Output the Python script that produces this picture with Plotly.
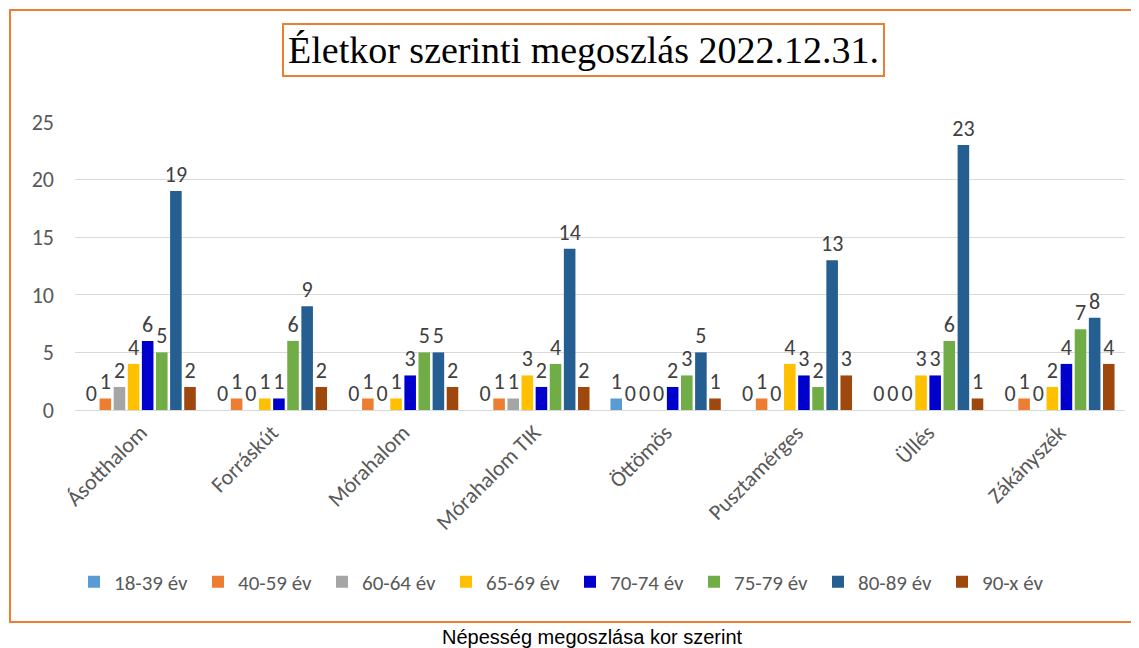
import plotly.graph_objects as go

categories = ["Ásotthalom", "Forráskút", "Mórahalom", "Mórahalom TIK",
              "Öttömös", "Pusztamérges", "Üllés", "Zákányszék"]
series_names = ["18-39 év", "40-59 év", "60-64 év", "65-69 év",
                "70-74 év", "75-79 év", "80-89 év", "90-x év"]
v_18_39 = [0, 0, 0, 0, 1, 0, 0, 0]
v_40_59 = [1, 1, 1, 1, 0, 1, 0, 1]
v_60_64 = [2, 0, 0, 1, 0, 0, 0, 0]
v_65_69 = [4, 1, 1, 3, 0, 4, 3, 2]
v_70_74 = [6, 1, 3, 2, 2, 3, 3, 4]
v_75_79 = [5, 6, 5, 4, 3, 2, 6, 7]
v_80_89 = [19, 9, 5, 14, 5, 13, 23, 8]
v_90_x = [2, 2, 2, 2, 1, 3, 1, 4]
series_values = [v_18_39, v_40_59, v_60_64, v_65_69, v_70_74, v_75_79, v_80_89, v_90_x]
colors = ["#5B9BD5", "#ED7D31", "#A5A5A5", "#FFC000",
          "#0000CC", "#70AD47", "#255E91", "#9E480E"]
y_ticks = [0, 5, 10, 15, 20, 25]

FONT = "Carlito, Liberation Sans, Arial, sans-serif"

fig = go.Figure()
for name, vals, col in zip(series_names, series_values, colors):
    fig.add_trace(go.Bar(
        x=categories, y=vals, name=name,
        marker=dict(color=col, line=dict(width=0)),
        text=[str(v) for v in vals], textposition="outside",
        textfont=dict(size=22, color="#404040", family=FONT),
        constraintext="none", cliponaxis=False,
    ))

OFF = 8  # page body margin
W, H = 1139 - OFF, 648 - OFF
ml, mr, mt, mb = 75 - OFF, 14, 122 - OFF, 648 - 410
pw, ph = W - ml - mr, H - mt - mb

def px(x):
    return (x - OFF - ml) / pw

def py(y):
    return (H - mb - (y - OFF)) / ph

fig.update_layout(
    width=W, height=H,
    margin=dict(l=ml, r=mr, t=mt, b=mb),
    paper_bgcolor="white", plot_bgcolor="white",
    barmode="group", bargap=0.14, bargroupgap=0.18,
    font=dict(family=FONT, color="#595959"),
    showlegend=True,
    legend=dict(orientation="h", x=px(74), xanchor="left", y=py(582), yanchor="middle",
                font=dict(size=21, color="#595959", family=FONT),
                entrywidth=79, traceorder="normal", itemwidth=30),
    xaxis=dict(tickangle=-45, tickfont=dict(size=22, color="#595959", family=FONT),
               showline=True, linecolor="#D9D9D9", ticks=""),
    yaxis=dict(range=[0, 25], tickvals=y_ticks, showgrid=True, gridcolor="#D9D9D9",
               gridwidth=1, zeroline=False, tickfont=dict(size=22, color="#595959", family=FONT),
               ticks="", ticklabelstandoff=20),
    shapes=[dict(type="rect", xref="paper", yref="paper",
                 x0=px(10), x1=px(1145), y0=py(622), y1=py(10),
                 line=dict(color="#ED7D31", width=2), layer="below")],
    annotations=[
        dict(text="Életkor szerinti megoszlás 2022.12.31.", xref="paper", yref="paper",
             x=px(583), y=py(50), xanchor="center", yanchor="middle", showarrow=False,
             font=dict(family="Liberation Serif, Times New Roman, serif", size=38, color="black"),
             bordercolor="#ED7D31", borderwidth=2, borderpad=4, bgcolor="white"),
        dict(text="Népesség megoszlása kor szerint", xref="paper", yref="paper",
             x=px(592), y=py(637), xanchor="center", yanchor="middle", showarrow=False,
             font=dict(family="Liberation Sans, Arial, sans-serif", size=20, color="black")),
    ],
)

fig.write_html("out.html")
